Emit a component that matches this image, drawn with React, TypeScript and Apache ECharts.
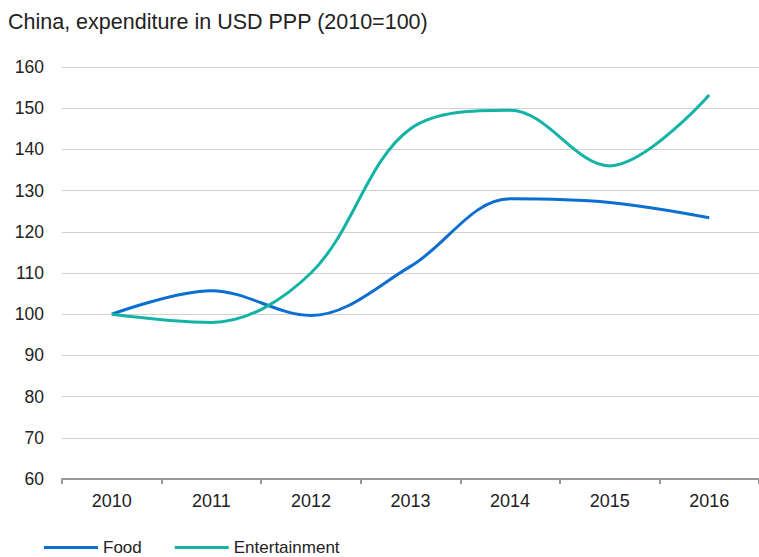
import React, { useEffect, useRef } from "react";
import * as echarts from "echarts";

const years = ["2010", "2011", "2012", "2013", "2014", "2015", "2016"];
const food = [100, 105.7, 99.7, 111.6, 128.0, 127.1, 123.4];
const entertainment = [100, 98.0, 110.0, 145.0, 149.5, 136.0, 153.2];

export default function App() {
  const ref = useRef<HTMLDivElement>(null);
  useEffect(() => {
    const chart = echarts.init(ref.current!, null, { renderer: "svg" });
    const font = "'Liberation Sans', Arial, sans-serif";
    chart.setOption({
      animation: false,
      title: {
        text: "China, expenditure in USD PPP (2010=100)",
        left: 3,
        top: 6,
        textStyle: { fontFamily: font, fontSize: 21.5, fontWeight: "normal", color: "#222" },
      },
      legend: {
        left: 39,
        top: 534,
        icon: "rect",
        itemWidth: 54,
        itemHeight: 3,
        itemGap: 33,
        textStyle: { fontFamily: font, fontSize: 17, color: "#222" },
        data: ["Food", "Entertainment"],
      },
      grid: { left: 62, right: -3, top: 67, bottom: 78, containLabel: false },
      xAxis: {
        type: "category",
        data: years,
        boundaryGap: true,
        axisLine: { lineStyle: { color: "#999", width: 2 } },
        axisTick: { show: true, length: 5, lineStyle: { color: "#999", width: 2 } },
        axisLabel: { fontFamily: font, fontSize: 18, color: "#222", margin: 13 },
      },
      yAxis: {
        type: "value",
        min: 60,
        max: 160,
        interval: 10,
        axisLine: { show: false },
        axisTick: { show: false },
        splitLine: { lineStyle: { color: "#d0d0d0", width: 1 } },
        axisLabel: { fontFamily: font, fontSize: 17.5, color: "#222", margin: 18 },
      },
      series: [
        {
          name: "Food",
          type: "line",
          data: food,
          smooth: 0.35,
          showSymbol: false,
          symbol: "none",
          lineStyle: { color: "#0a6fd0", width: 3 },
          itemStyle: { color: "#0a6fd0" },
        },
        {
          name: "Entertainment",
          type: "line",
          data: entertainment,
          smooth: 0.35,
          showSymbol: false,
          symbol: "none",
          lineStyle: { color: "#13b3a6", width: 3 },
          itemStyle: { color: "#13b3a6" },
        },
      ],
    });
    return () => chart.dispose();
  }, []);
  return (
    <div
      ref={ref}
      style={{ position: "absolute", left: 0, top: 0, width: 759, height: 557 }}
    />
  );
}
